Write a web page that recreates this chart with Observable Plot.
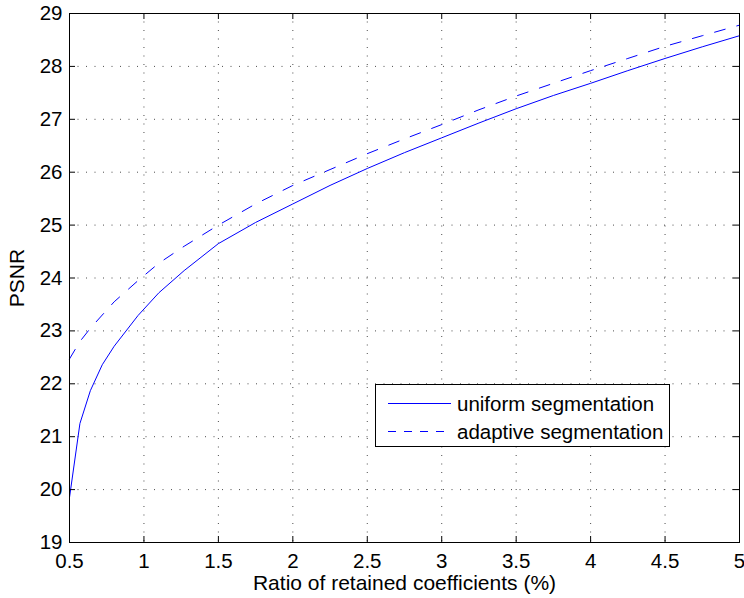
<!DOCTYPE html>
<html>
<head>
<meta charset="utf-8">
<script src="https://cdn.jsdelivr.net/npm/d3@7"></script>
<script src="https://cdn.jsdelivr.net/npm/@observablehq/plot@0.6"></script>
<style>
  body { margin: 0; background: #fff; }
  #wrap { position: relative; width: 744px; height: 598px; font-family: "Liberation Sans", Arial, sans-serif; }
  #legend { position: absolute; left: 375px; top: 384px; width: 293px; height: 61px; border: 1px solid #000; background: #fff; }
</style>
</head>
<body>
<div id="wrap"></div>
<script>
const ratio = [0.5,0.57,0.64,0.72,0.8,0.96,1.1,1.27,1.5,1.75,2,2.25,2.5,2.75,3,3.25,3.5,3.75,4,4.25,4.5,4.75,5];
const uniformPSNR = [19.85,21.25,21.87,22.36,22.71,23.29,23.72,24.14,24.65,25.05,25.4,25.75,26.07,26.37,26.65,26.93,27.2,27.45,27.68,27.92,28.15,28.37,28.58];
const adaptivePSNR = [22.47,22.8,23.05,23.3,23.55,23.95,24.28,24.6,25.0,25.4,25.75,26.05,26.35,26.63,26.9,27.18,27.44,27.68,27.92,28.15,28.38,28.58,28.78];
const xTicks = [0.5,1,1.5,2,2.5,3,3.5,4,4.5,5];
const yTicks = [19,20,21,22,23,24,25,26,27,28,29];
const seriesNames = ["uniform segmentation", "adaptive segmentation"];
const xLabel = "Ratio of retained coefficients (%)";
const yLabel = "PSNR";

const uniform = ratio.map((x, i) => ({x, y: uniformPSNR[i]}));
const adaptive = ratio.map((x, i) => ({x, y: adaptivePSNR[i]}));

const W = 744, H = 598, mL = 69, mR = 5, mT = 13, mB = 56;
const innerH = H - mT - mB, innerW = W - mL - mR;
const tk = 6;
const gridStyle = {stroke: "#000", strokeOpacity: 0.7, strokeDasharray: "1,7.5", strokeWidth: 1};
const fmt = d => String(d);

const chart = Plot.plot({
  width: W, height: H,
  marginLeft: mL, marginRight: mR, marginTop: mT, marginBottom: mB,
  style: {fontFamily: "'Liberation Sans', Arial, sans-serif", fontSize: "20px", color: "#000", background: "#fff", overflow: "visible"},
  x: {domain: [0.5, 5]},
  y: {domain: [19, 29]},
  marks: [
    Plot.ruleX(xTicks.slice(1, -1), gridStyle),
    Plot.ruleY(yTicks.slice(1, -1), gridStyle),
    Plot.line(uniform, {x: "x", y: "y", stroke: "#0000ff", strokeWidth: 1}),
    Plot.line(adaptive, {x: "x", y: "y", stroke: "#0000ff", strokeWidth: 1, strokeDasharray: "11,12"}),
    Plot.tickX(xTicks, {x: d => d, insetTop: innerH - tk, stroke: "#000"}),
    Plot.tickX(xTicks, {x: d => d, insetBottom: innerH - tk, stroke: "#000"}),
    Plot.tickY(yTicks, {y: d => d, insetRight: innerW - tk, stroke: "#000"}),
    Plot.tickY(yTicks, {y: d => d, insetLeft: innerW - tk, stroke: "#000"}),
    Plot.frame({stroke: "#000", strokeWidth: 1}),
    Plot.axisX(xTicks, {tickSize: 0, tickPadding: 11, label: null, fontSize: 20.5, tickFormat: fmt}),
    Plot.axisY(yTicks, {tickSize: 0, tickPadding: 7, label: null, fontSize: 20.5, tickFormat: fmt}),
    Plot.text([xLabel], {frameAnchor: "bottom", dy: 41, lineAnchor: "middle", textAnchor: "middle", fontSize: 21, fill: "#000"}),
    Plot.text([yLabel], {frameAnchor: "left", dx: -52, lineAnchor: "middle", textAnchor: "middle", rotate: -90, fontSize: 21, fill: "#000"})
  ]
});

const wrap = document.getElementById("wrap");
wrap.appendChild(chart);

const legend = document.createElement("div");
legend.id = "legend";
const ns = "http://www.w3.org/2000/svg";
const svg = document.createElementNS(ns, "svg");
svg.setAttribute("width", 293); svg.setAttribute("height", 61);
svg.style.fontFamily = "'Liberation Sans', Arial, sans-serif";
const rows = [{y: 18.5, dash: null}, {y: 46.5, dash: "8,8"}];
seriesNames.forEach((name, i) => {
  const ln = document.createElementNS(ns, "line");
  ln.setAttribute("x1", 12); ln.setAttribute("x2", 75);
  ln.setAttribute("y1", rows[i].y); ln.setAttribute("y2", rows[i].y);
  ln.setAttribute("stroke", "#0000ff");
  if (rows[i].dash) ln.setAttribute("stroke-dasharray", rows[i].dash);
  svg.appendChild(ln);
  const t = document.createElementNS(ns, "text");
  t.setAttribute("x", 81); t.setAttribute("y", rows[i].y);
  t.setAttribute("dy", "0.35em");
  t.setAttribute("font-size", 20.5);
  t.textContent = name;
  svg.appendChild(t);
});
legend.appendChild(svg);
wrap.appendChild(legend);
</script>
</body>
</html>
